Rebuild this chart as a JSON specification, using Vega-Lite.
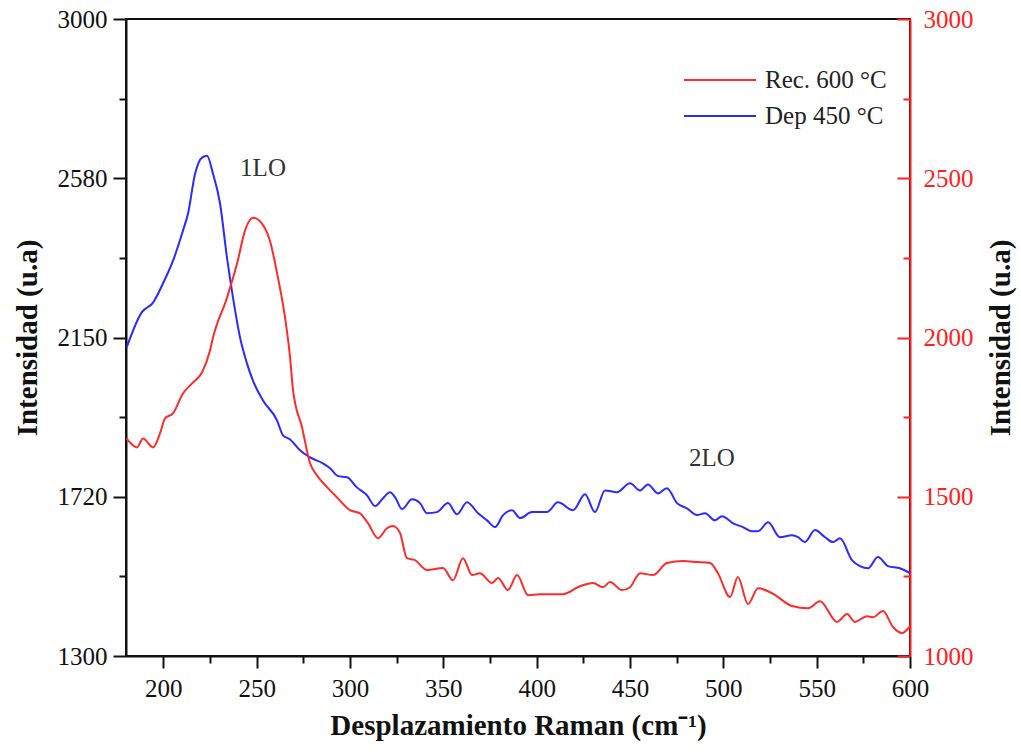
{
  "$schema": "https://vega.github.io/schema/vega-lite/v6.json",
  "width": 784,
  "height": 637,
  "autosize": {"type": "none"},
  "padding": {"left": 126, "top": 19, "right": 111, "bottom": 98},
  "background": "white",
  "config": {
    "view": {"stroke": "#111", "strokeWidth": 2},
    "font": "Liberation Serif",
    "axis": {"labelFont": "Liberation Serif", "titleFont": "Liberation Serif", "grid": false, "domainWidth": 2, "tickWidth": 2, "labelFontSize": 25, "titleFontSize": 29, "titleFontWeight": "bold", "titleColor": "#111"}
  },
  "datasets": {
    "dep": [
      {"x":180.4,"y":2124,"serie":"Dep 450 °C"},{"x":188.4,"y":2217,"serie":"Dep 450 °C"},{"x":194.5,"y":2243,"serie":"Dep 450 °C"},{"x":199.8,"y":2294,"serie":"Dep 450 °C"},{"x":205.2,"y":2355,"serie":"Dep 450 °C"},{"x":210.5,"y":2435,"serie":"Dep 450 °C"},{"x":213.2,"y":2480,"serie":"Dep 450 °C"},{"x":217.0,"y":2587,"serie":"Dep 450 °C"},{"x":220.7,"y":2630,"serie":"Dep 450 °C"},{"x":223.4,"y":2635,"serie":"Dep 450 °C"},{"x":226.6,"y":2587,"serie":"Dep 450 °C"},{"x":230.4,"y":2507,"serie":"Dep 450 °C"},{"x":234.1,"y":2363,"serie":"Dep 450 °C"},{"x":237.3,"y":2257,"serie":"Dep 450 °C"},{"x":241.1,"y":2150,"serie":"Dep 450 °C"},{"x":244.8,"y":2081,"serie":"Dep 450 °C"},{"x":248.0,"y":2035,"serie":"Dep 450 °C"},{"x":253.4,"y":1982,"serie":"Dep 450 °C"},{"x":260.9,"y":1929,"serie":"Dep 450 °C"},{"x":264.1,"y":1889,"serie":"Dep 450 °C"},{"x":267.9,"y":1878,"serie":"Dep 450 °C"},{"x":273.2,"y":1849,"serie":"Dep 450 °C"},{"x":278.6,"y":1830,"serie":"Dep 450 °C"},{"x":285.5,"y":1814,"serie":"Dep 450 °C"},{"x":289.3,"y":1801,"serie":"Dep 450 °C"},{"x":293.6,"y":1780,"serie":"Dep 450 °C"},{"x":298.4,"y":1777,"serie":"Dep 450 °C"},{"x":303.7,"y":1750,"serie":"Dep 450 °C"},{"x":309.1,"y":1729,"serie":"Dep 450 °C"},{"x":313.4,"y":1700,"serie":"Dep 450 °C"},{"x":317.7,"y":1721,"serie":"Dep 450 °C"},{"x":321.4,"y":1737,"serie":"Dep 450 °C"},{"x":324.1,"y":1724,"serie":"Dep 450 °C"},{"x":327.9,"y":1692,"serie":"Dep 450 °C"},{"x":333.2,"y":1718,"serie":"Dep 450 °C"},{"x":337.5,"y":1708,"serie":"Dep 450 °C"},{"x":341.2,"y":1681,"serie":"Dep 450 °C"},{"x":346.6,"y":1684,"serie":"Dep 450 °C"},{"x":352.5,"y":1708,"serie":"Dep 450 °C"},{"x":357.3,"y":1678,"serie":"Dep 450 °C"},{"x":362.7,"y":1710,"serie":"Dep 450 °C"},{"x":368.6,"y":1681,"serie":"Dep 450 °C"},{"x":373.4,"y":1662,"serie":"Dep 450 °C"},{"x":377.7,"y":1644,"serie":"Dep 450 °C"},{"x":382.0,"y":1676,"serie":"Dep 450 °C"},{"x":386.8,"y":1689,"serie":"Dep 450 °C"},{"x":391.1,"y":1668,"serie":"Dep 450 °C"},{"x":397.5,"y":1684,"serie":"Dep 450 °C"},{"x":405.5,"y":1684,"serie":"Dep 450 °C"},{"x":411.4,"y":1710,"serie":"Dep 450 °C"},{"x":419.5,"y":1689,"serie":"Dep 450 °C"},{"x":425.9,"y":1732,"serie":"Dep 450 °C"},{"x":431.2,"y":1684,"serie":"Dep 450 °C"},{"x":436.6,"y":1742,"serie":"Dep 450 °C"},{"x":443.0,"y":1737,"serie":"Dep 450 °C"},{"x":450.0,"y":1761,"serie":"Dep 450 °C"},{"x":455.4,"y":1742,"serie":"Dep 450 °C"},{"x":459.6,"y":1758,"serie":"Dep 450 °C"},{"x":465.0,"y":1734,"serie":"Dep 450 °C"},{"x":469.8,"y":1748,"serie":"Dep 450 °C"},{"x":475.2,"y":1708,"serie":"Dep 450 °C"},{"x":480.5,"y":1694,"serie":"Dep 450 °C"},{"x":485.9,"y":1676,"serie":"Dep 450 °C"},{"x":490.2,"y":1681,"serie":"Dep 450 °C"},{"x":495.5,"y":1662,"serie":"Dep 450 °C"},{"x":499.3,"y":1673,"serie":"Dep 450 °C"},{"x":505.2,"y":1654,"serie":"Dep 450 °C"},{"x":510.5,"y":1644,"serie":"Dep 450 °C"},{"x":515.4,"y":1633,"serie":"Dep 450 °C"},{"x":518.6,"y":1633,"serie":"Dep 450 °C"},{"x":524.0,"y":1657,"serie":"Dep 450 °C"},{"x":530.3,"y":1617,"serie":"Dep 450 °C"},{"x":536.8,"y":1622,"serie":"Dep 450 °C"},{"x":540.0,"y":1617,"serie":"Dep 450 °C"},{"x":543.7,"y":1604,"serie":"Dep 450 °C"},{"x":549.1,"y":1636,"serie":"Dep 450 °C"},{"x":554.5,"y":1617,"serie":"Dep 450 °C"},{"x":558.7,"y":1604,"serie":"Dep 450 °C"},{"x":562.5,"y":1614,"serie":"Dep 450 °C"},{"x":568.9,"y":1556,"serie":"Dep 450 °C"},{"x":573.2,"y":1540,"serie":"Dep 450 °C"},{"x":577.5,"y":1534,"serie":"Dep 450 °C"},{"x":582.8,"y":1564,"serie":"Dep 450 °C"},{"x":588.2,"y":1540,"serie":"Dep 450 °C"},{"x":594.6,"y":1534,"serie":"Dep 450 °C"},{"x":600.0,"y":1521,"serie":"Dep 450 °C"}
    ],
    "rec": [
      {"x":180.2,"y":1683,"serie":"Rec. 600 °C"},{"x":185.9,"y":1655,"serie":"Rec. 600 °C"},{"x":189.1,"y":1683,"serie":"Rec. 600 °C"},{"x":194.5,"y":1655,"serie":"Rec. 600 °C"},{"x":198.2,"y":1699,"serie":"Rec. 600 °C"},{"x":200.9,"y":1746,"serie":"Rec. 600 °C"},{"x":205.2,"y":1762,"serie":"Rec. 600 °C"},{"x":210.5,"y":1824,"serie":"Rec. 600 °C"},{"x":215.4,"y":1856,"serie":"Rec. 600 °C"},{"x":220.7,"y":1890,"serie":"Rec. 600 °C"},{"x":225.0,"y":1959,"serie":"Rec. 600 °C"},{"x":226.6,"y":2000,"serie":"Rec. 600 °C"},{"x":234.1,"y":2125,"serie":"Rec. 600 °C"},{"x":239.5,"y":2232,"serie":"Rec. 600 °C"},{"x":243.7,"y":2335,"serie":"Rec. 600 °C"},{"x":248.0,"y":2376,"serie":"Rec. 600 °C"},{"x":252.9,"y":2357,"serie":"Rec. 600 °C"},{"x":257.1,"y":2304,"serie":"Rec. 600 °C"},{"x":261.4,"y":2188,"serie":"Rec. 600 °C"},{"x":265.2,"y":2063,"serie":"Rec. 600 °C"},{"x":267.9,"y":1937,"serie":"Rec. 600 °C"},{"x":269.5,"y":1834,"serie":"Rec. 600 °C"},{"x":274.3,"y":1718,"serie":"Rec. 600 °C"},{"x":278.6,"y":1605,"serie":"Rec. 600 °C"},{"x":282.3,"y":1567,"serie":"Rec. 600 °C"},{"x":287.7,"y":1530,"serie":"Rec. 600 °C"},{"x":293.0,"y":1498,"serie":"Rec. 600 °C"},{"x":300.0,"y":1458,"serie":"Rec. 600 °C"},{"x":305.4,"y":1448,"serie":"Rec. 600 °C"},{"x":309.6,"y":1417,"serie":"Rec. 600 °C"},{"x":315.0,"y":1370,"serie":"Rec. 600 °C"},{"x":319.8,"y":1401,"serie":"Rec. 600 °C"},{"x":323.0,"y":1408,"serie":"Rec. 600 °C"},{"x":326.8,"y":1386,"serie":"Rec. 600 °C"},{"x":330.5,"y":1307,"serie":"Rec. 600 °C"},{"x":334.8,"y":1301,"serie":"Rec. 600 °C"},{"x":341.2,"y":1270,"serie":"Rec. 600 °C"},{"x":349.8,"y":1276,"serie":"Rec. 600 °C"},{"x":355.2,"y":1238,"serie":"Rec. 600 °C"},{"x":360.5,"y":1307,"serie":"Rec. 600 °C"},{"x":365.4,"y":1254,"serie":"Rec. 600 °C"},{"x":369.6,"y":1260,"serie":"Rec. 600 °C"},{"x":376.1,"y":1229,"serie":"Rec. 600 °C"},{"x":379.3,"y":1245,"serie":"Rec. 600 °C"},{"x":384.6,"y":1207,"serie":"Rec. 600 °C"},{"x":389.5,"y":1254,"serie":"Rec. 600 °C"},{"x":395.4,"y":1191,"serie":"Rec. 600 °C"},{"x":401.8,"y":1194,"serie":"Rec. 600 °C"},{"x":414.1,"y":1194,"serie":"Rec. 600 °C"},{"x":423.2,"y":1219,"serie":"Rec. 600 °C"},{"x":430.2,"y":1229,"serie":"Rec. 600 °C"},{"x":435.5,"y":1216,"serie":"Rec. 600 °C"},{"x":439.3,"y":1232,"serie":"Rec. 600 °C"},{"x":445.7,"y":1207,"serie":"Rec. 600 °C"},{"x":450.0,"y":1216,"serie":"Rec. 600 °C"},{"x":455.4,"y":1260,"serie":"Rec. 600 °C"},{"x":462.3,"y":1254,"serie":"Rec. 600 °C"},{"x":469.8,"y":1292,"serie":"Rec. 600 °C"},{"x":478.4,"y":1298,"serie":"Rec. 600 °C"},{"x":485.9,"y":1295,"serie":"Rec. 600 °C"},{"x":492.9,"y":1292,"serie":"Rec. 600 °C"},{"x":497.1,"y":1260,"serie":"Rec. 600 °C"},{"x":503.6,"y":1185,"serie":"Rec. 600 °C"},{"x":507.8,"y":1248,"serie":"Rec. 600 °C"},{"x":513.2,"y":1163,"serie":"Rec. 600 °C"},{"x":518.6,"y":1213,"serie":"Rec. 600 °C"},{"x":526.1,"y":1197,"serie":"Rec. 600 °C"},{"x":536.8,"y":1157,"serie":"Rec. 600 °C"},{"x":545.4,"y":1150,"serie":"Rec. 600 °C"},{"x":551.8,"y":1172,"serie":"Rec. 600 °C"},{"x":560.9,"y":1107,"serie":"Rec. 600 °C"},{"x":566.3,"y":1132,"serie":"Rec. 600 °C"},{"x":570.5,"y":1107,"serie":"Rec. 600 °C"},{"x":576.9,"y":1125,"serie":"Rec. 600 °C"},{"x":580.2,"y":1122,"serie":"Rec. 600 °C"},{"x":585.5,"y":1141,"serie":"Rec. 600 °C"},{"x":590.9,"y":1091,"serie":"Rec. 600 °C"},{"x":595.7,"y":1072,"serie":"Rec. 600 °C"},{"x":600.0,"y":1094,"serie":"Rec. 600 °C"}
    ],
    "notes": [
      {"x": 253.4, "y": 2603, "label": "1LO"},
      {"x": 493.9, "y": 1828, "label": "2LO"}
    ]
  },
  "layer": [
    {
      "data": {"name": "dep"},
      "mark": {"type": "line", "strokeWidth": 2, "interpolate": "monotone"},
      "encoding": {
        "x": {
          "field": "x", "type": "quantitative",
          "scale": {"domain": [180, 600], "nice": false, "zero": false},
          "axis": {
            "title": "Desplazamiento Raman (cm⁻¹)",
            "values": [200,225,250,275,300,325,350,375,400,425,450,475,500,525,550,575,600],
            "labelExpr": "datum.value % 50 === 0 ? format(datum.value, 'd') : ''",
            "domainColor": "#111", "tickColor": "#111", "labelColor": "#111",
            "tickSize": {"condition": {"test": "datum.value % 50 === 0", "value": 12}, "value": 7},
            "labelPadding": 8, "titlePadding": 10, "labelFlush": false
          }
        },
        "y": {
          "field": "y", "type": "quantitative",
          "scale": {"domain": [1300, 3000], "nice": false, "zero": false},
          "axis": {
            "title": "Intensidad (u.a)", "orient": "left",
            "values": [1300,1512.5,1725,1937.5,2150,2362.5,2575,2787.5,3000],
            "labelExpr": "datum.value == 1300 ? '1300' : datum.value == 1725 ? '1720' : datum.value == 2150 ? '2150' : datum.value == 2575 ? '2580' : datum.value == 3000 ? '3000' : ''",
            "domainColor": "#111", "tickColor": "#111", "labelColor": "#111",
            "tickSize": {"condition": {"test": "datum.value == 1300 || datum.value == 1725 || datum.value == 2150 || datum.value == 2575 || datum.value == 3000", "value": 13}, "value": 7},
            "labelPadding": 6, "titlePadding": 15, "labelFlush": false
          }
        },
        "color": {
          "field": "serie", "type": "nominal",
          "scale": {"domain": ["Rec. 600 °C", "Dep 450 °C"], "range": ["#ff2a2a", "#2a2aff"]},
          "legend": {
            "title": null, "orient": "none", "legendX": 581, "legendY": 48,
            "symbolType": "M-3,0H3", "symbolSize": 576, "symbolStrokeWidth": 2,
            "labelFont": "Liberation Serif", "labelFontSize": 25, "labelColor": "#222",
            "labelOffset": 32, "rowPadding": 10
          }
        }
      }
    },
    {
      "data": {"name": "rec"},
      "mark": {"type": "line", "strokeWidth": 2, "interpolate": "monotone"},
      "encoding": {
        "x": {"field": "x", "type": "quantitative"},
        "y": {
          "field": "y", "type": "quantitative",
          "scale": {"domain": [1000, 3000], "nice": false, "zero": false},
          "axis": {
            "title": "Intensidad (u.a)", "orient": "right", "titleAngle": 270,
            "values": [1000,1250,1500,1750,2000,2250,2500,2750,3000],
            "labelExpr": "datum.value % 500 === 0 ? format(datum.value, 'd') : ''",
            "domainColor": "#ff2020", "tickColor": "#ff2020", "labelColor": "#ff2020",
            "tickSize": {"condition": {"test": "datum.value % 500 === 0", "value": -13}, "value": -7},
            "labelPadding": 26, "titlePadding": 42, "labelFlush": false
          }
        },
        "color": {"field": "serie", "type": "nominal"}
      }
    },
    {
      "data": {"name": "notes"},
      "mark": {"type": "text", "font": "Liberation Serif", "fontSize": 25, "color": "#333", "align": "center", "baseline": "middle"},
      "encoding": {
        "x": {"field": "x", "type": "quantitative"},
        "y": {"field": "y", "type": "quantitative", "scale": {"domain": [1300, 3000], "nice": false, "zero": false}, "axis": null},
        "text": {"field": "label"}
      }
    }
  ],
  "resolve": {"scale": {"y": "independent"}}
}
